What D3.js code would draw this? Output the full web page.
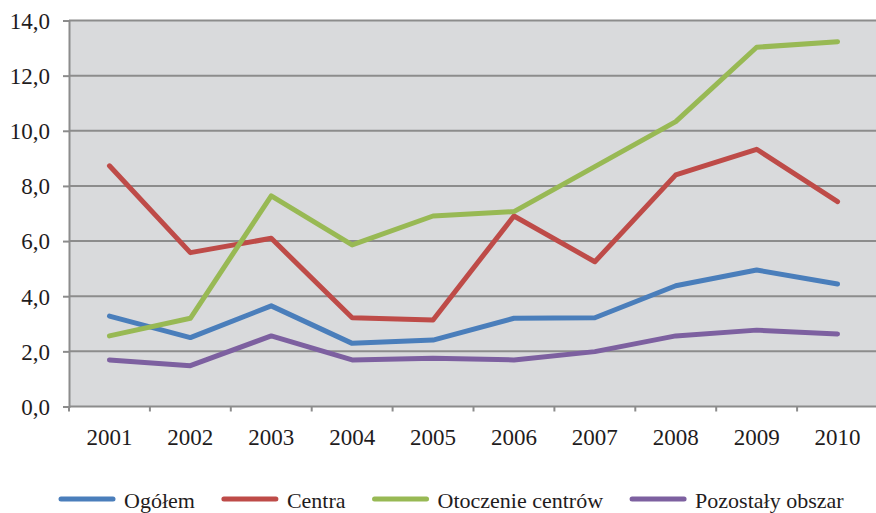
<!DOCTYPE html>
<html>
<head>
<meta charset="utf-8">
<script src="https://cdn.jsdelivr.net/npm/d3@7"></script>
<style>
  body { margin: 0; background: #fff; }
  text { font-family: "Liberation Serif", "Times New Roman", serif; fill: #1f1c1d; }
</style>
</head>
<body>
<svg id="chart"></svg>
<script>
const years = ["2001", "2002", "2003", "2004", "2005", "2006", "2007", "2008", "2009", "2010"];
const ogolem = [3.28, 2.50, 3.65, 2.29, 2.41, 3.20, 3.22, 4.38, 4.95, 4.44];
const centra = [8.73, 5.58, 6.10, 3.22, 3.14, 6.91, 5.25, 8.40, 9.33, 7.43];
const otoczenie = [2.56, 3.20, 7.64, 5.86, 6.91, 7.07, 8.70, 10.33, 13.03, 13.23];
const pozostaly = [1.69, 1.48, 2.56, 1.69, 1.75, 1.69, 1.99, 2.56, 2.77, 2.63];
const yTicks = [0, 2, 4, 6, 8, 10, 12, 14];

const seriesList = [
    { label: "Ogółem", values: ogolem, color: "#4a7ebb" },
    { label: "Centra", values: centra, color: "#be4b48" },
    { label: "Otoczenie centrów", values: otoczenie, color: "#98b954" },
    { label: "Pozostały obszar", values: pozostaly, color: "#7d60a0" }
];

const width = 876, height = 513;
const plot = { left: 69, right: 878, top: 20.5, bottom: 406.5 };

const svg = d3.select("#chart")
    .attr("width", width)
    .attr("height", height);

// Scales
const x = d3.scaleBand()
    .domain(years)
    .range([plot.left, plot.right]);

const y = d3.scaleLinear()
    .domain([0, 14])
    .range([plot.bottom, plot.top]);

// Plot background
svg.append("rect")
    .attr("x", plot.left)
    .attr("y", plot.top)
    .attr("width", plot.right - plot.left)
    .attr("height", plot.bottom - plot.top)
    .attr("fill", "#d9dadc");

// Gridlines
svg.append("g")
    .selectAll("line")
    .data(yTicks.filter(d => d > 0))
    .enter()
    .append("line")
    .attr("x1", plot.left)
    .attr("x2", plot.right)
    .attr("y1", d => y(d))
    .attr("y2", d => y(d))
    .attr("stroke", "#8c8c8c")
    .attr("stroke-width", 2);

// Y axis
const yAxis = svg.append("g")
    .attr("transform", `translate(${plot.left},0)`)
    .call(d3.axisLeft(y)
        .tickValues(yTicks)
        .tickSize(6)
        .tickPadding(13)
        .tickFormat(d => d3.format(".1f")(d).replace(".", ",")));
yAxis.select(".domain").attr("stroke", "#8c8c8c").attr("stroke-width", 2);
yAxis.selectAll(".tick line").attr("stroke", "#8c8c8c").attr("stroke-width", 2);
yAxis.selectAll(".tick text")
    .attr("font-size", 23)
    .attr("dy", "0.34em");

// X axis line + boundary ticks
svg.append("line")
    .attr("x1", plot.left)
    .attr("x2", plot.right)
    .attr("y1", plot.bottom)
    .attr("y2", plot.bottom)
    .attr("stroke", "#8c8c8c")
    .attr("stroke-width", 2);

svg.append("g")
    .selectAll("line")
    .data(years)
    .enter()
    .append("line")
    .attr("x1", d => x(d))
    .attr("x2", d => x(d))
    .attr("y1", plot.bottom)
    .attr("y2", plot.bottom + 5)
    .attr("stroke", "#8c8c8c")
    .attr("stroke-width", 2);

svg.append("g")
    .selectAll("text")
    .data(years)
    .enter()
    .append("text")
    .attr("x", d => x(d) + x.bandwidth() / 2)
    .attr("y", 445)
    .attr("text-anchor", "middle")
    .attr("font-size", 23)
    .text(d => d);

// Lines
const line = d3.line()
    .x((d, i) => x(years[i]) + x.bandwidth() / 2)
    .y(d => y(d));

seriesList.forEach(s => {
    svg.append("path")
        .datum(s.values)
        .attr("fill", "none")
        .attr("stroke", s.color)
        .attr("stroke-width", 5)
        .attr("stroke-linecap", "round")
        .attr("stroke-linejoin", "round")
        .attr("d", line);
});

// Legend
const legend = svg.append("g").attr("class", "legend");
let lx = 61;
const ly = 499;
seriesList.forEach(s => {
    const item = legend.append("g").attr("transform", `translate(${lx},${ly})`);
    item.append("line")
        .attr("x1", 0)
        .attr("x2", 52)
        .attr("y1", 0)
        .attr("y2", 0)
        .attr("stroke", s.color)
        .attr("stroke-width", 5)
        .attr("stroke-linecap", "round");
    const t = item.append("text")
        .attr("x", 63)
        .attr("y", 9)
        .attr("font-size", 22)
        .text(s.label);
    lx += 63 + t.node().getComputedTextLength() + 29;
});
</script>
</body>
</html>
